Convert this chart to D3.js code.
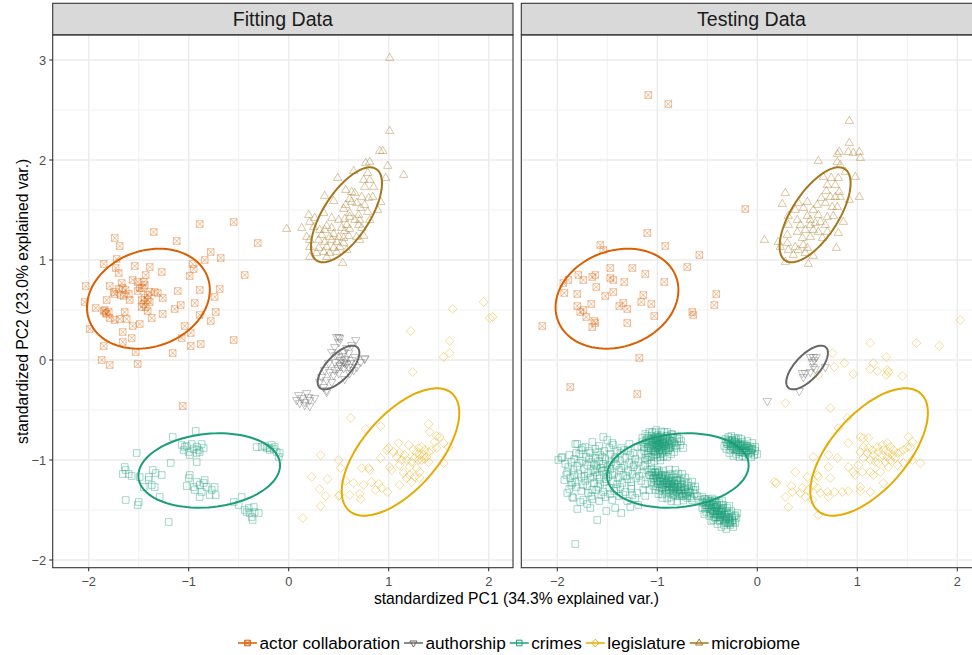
<!DOCTYPE html>
<html>
<head>
<meta charset="utf-8">
<script src="https://cdn.jsdelivr.net/npm/d3@7"></script>
<style>
body { margin: 0; background: #fff; }
text { font-family: "Liberation Sans", Arial, sans-serif; }
</style>
</head>
<body>
<svg id="chart" width="972" height="655"></svg>
<script>
// Categories, colours and shapes (ggplot Dark2 palette)
var categories = ['actor collaboration', 'authorship', 'crimes', 'legislature', 'microbiome']
var colors = ['#D95F02', '#666666', '#1B9E77', '#E6AB02', '#A6761D']
var shapes = ['squareX', 'triDown', 'square', 'diamond', 'triUp']
var facets = ['Fitting Data', 'Testing Data']
var xTicks = [-2, -1, 0, 1, 2]
var yTicks = [-2, -1, 0, 1, 2, 3]

// Ellipses (fitted on the fitting data, drawn in both panels)
var ellCx = [-1.403, 0.498, -0.795, 1.118, 0.578]
var ellCy = [0.613, -0.075, -1.105, -0.92, 1.452]
var ellA = [0.63, 0.276, 0.711, 0.78, 0.546]
var ellB = [0.48, 0.122, 0.367, 0.378, 0.231]
var ellAngle = [20, 47, 5.8, 48.7, 57]

// ---- Fitting data (PC1, PC2) ----
var fitActor = [[-1.74,1.22],[-1.69,1.14],[-1.35,1.28],[-1.12,1.19],[-0.89,1.36],[-0.55,1.38],[-0.31,1.17],[-0.78,1.08],[-0.68,1.02],[-0.84,1.00],[-0.96,0.96],[-0.95,0.91],[-0.99,0.84],[-0.44,0.85],[-1.85,0.96],[-1.72,1.01],[-1.73,0.92],[-1.70,0.87],[-1.54,0.94],[-1.39,0.93],[-1.27,0.88],[-1.43,0.85],[-1.56,0.80],[-1.45,0.78],[-1.44,0.75],[-1.47,0.72],[-1.51,0.78],[-1.67,0.77],[-1.79,0.74],[-2.03,0.74],[-1.75,0.68],[-1.70,0.71],[-1.66,0.72],[-1.63,0.70],[-1.60,0.66],[-1.65,0.64],[-1.68,0.65],[-1.74,0.66],[-1.59,0.60],[-1.82,0.60],[-1.51,0.69],[-1.49,0.72],[-1.39,0.68],[-1.34,0.68],[-1.31,0.67],[-1.41,0.65],[-1.26,0.62],[-1.11,0.69],[-0.89,0.70],[-0.69,0.71],[-0.74,0.63],[-0.94,0.57],[-1.08,0.55],[-1.14,0.51],[-1.47,0.60],[-1.44,0.62],[-1.41,0.60],[-1.39,0.58],[-1.45,0.56],[-1.43,0.53],[-2.04,0.58],[-1.93,0.52],[-1.85,0.49],[-1.83,0.47],[-1.84,0.50],[-1.80,0.48],[-1.82,0.46],[-1.79,0.42],[-1.74,0.40],[-1.69,0.41],[-1.64,0.48],[-1.62,0.41],[-1.47,0.53],[-1.41,0.49],[-1.37,0.42],[-1.26,0.46],[-0.89,0.45],[-0.73,0.48],[-0.78,0.39],[-1.99,0.31],[-1.56,0.34],[-1.49,0.36],[-1.66,0.28],[-1.04,0.34],[-0.98,0.27],[-1.07,0.22],[-0.55,0.20],[-1.57,0.22],[-1.66,0.18],[-1.85,0.14],[-0.98,0.14],[-0.88,0.16],[-1.53,0.08],[-1.16,0.07],[-1.87,0.00],[-1.79,-0.05],[-1.51,-0.04],[-1.06,-0.46]]

var fitAuthor = [[0.48,0.23],[0.51,0.22],[0.50,0.18],[0.46,0.13],[0.43,0.08],[0.67,0.20],[0.63,0.15],[0.58,0.12],[0.55,0.08],[0.60,0.07],[0.76,0.02],[0.72,-0.02],[0.50,0.03],[0.53,0.00],[0.56,-0.03],[0.51,-0.05],[0.46,-0.02],[0.55,-0.08],[0.60,-0.07],[0.63,0.00],[0.66,0.03],[0.40,-0.03],[0.36,-0.10],[0.41,-0.12],[0.46,-0.10],[0.45,-0.15],[0.50,-0.13],[0.61,-0.13],[0.65,-0.10],[0.68,-0.07],[0.33,-0.17],[0.38,-0.20],[0.31,-0.22],[0.43,-0.22],[0.56,-0.19],[0.38,-0.30],[0.35,-0.27],[0.08,-0.40],[0.13,-0.38],[0.11,-0.43],[0.16,-0.42],[0.20,-0.37],[0.18,-0.33],[0.21,-0.40],[0.10,-0.35],[0.21,-0.46],[0.16,-0.45],[0.26,-0.38],[0.76,0.01],[0.50,0.23],[0.38,-0.32],[0.55,-0.02],[0.57,0.01],[0.52,-0.06],[0.58,-0.04],[0.54,0.04],[0.49,-0.08],[0.62,-0.03],[0.47,0.05]]

var fitCrimes = [[-0.93,-0.71],[-1.16,-0.77],[-1.07,-0.85],[-1.02,-0.86],[-0.97,-0.84],[-0.92,-0.87],[-0.87,-0.84],[-0.85,-0.88],[-1.05,-0.90],[-1.00,-0.92],[-0.95,-0.89],[-0.90,-0.90],[-1.04,-0.87],[-0.99,-0.95],[-0.92,-0.93],[-0.89,-0.92],[-1.52,-0.93],[-0.92,-1.02],[-1.18,-1.03],[-0.32,-0.87],[-0.27,-0.87],[-0.22,-0.88],[-0.17,-0.85],[-0.15,-0.89],[-0.12,-0.92],[-0.09,-0.93],[-0.10,-0.97],[-0.19,-0.90],[-0.14,-0.87],[-0.24,-0.86],[-0.19,-0.88],[-1.64,-1.07],[-1.63,-1.10],[-1.66,-1.14],[-1.60,-1.14],[-1.57,-1.16],[-1.63,-1.40],[-1.50,-1.42],[-1.51,-1.45],[-1.49,-1.17],[-1.45,-1.27],[-1.40,-1.17],[-1.36,-1.10],[-1.33,-1.13],[-1.37,-1.25],[-1.34,-1.27],[-1.27,-1.15],[-1.40,-1.20],[-1.29,-1.37],[-1.20,-1.62],[-0.99,-1.15],[-1.00,-1.18],[-1.02,-1.26],[-0.92,-1.22],[-0.89,-1.25],[-0.94,-1.30],[-0.85,-1.23],[-0.82,-1.27],[-0.77,-1.30],[-0.74,-1.27],[-0.73,-1.35],[-0.89,-1.37],[-0.79,-1.35],[-0.87,-1.32],[-0.84,-1.20],[-0.95,-1.27],[-0.55,-1.42],[-0.50,-1.45],[-0.47,-1.37],[-0.44,-1.50],[-0.40,-1.48],[-0.39,-1.53],[-0.35,-1.47],[-0.34,-1.52],[-0.36,-1.60],[-0.30,-1.53],[-0.42,-1.52],[-0.37,-1.57]]

var fitLegis = [[1.64,0.51],[1.95,0.58],[2.01,0.42],[2.04,0.43],[1.22,0.29],[1.61,0.19],[1.61,0.07],[1.55,0.03],[1.24,-0.12],[0.62,-0.58],[0.77,-0.69],[0.92,-0.66],[0.32,-0.95],[0.23,-1.17],[0.39,-1.19],[0.31,-1.29],[0.37,-1.36],[0.32,-1.46],[0.14,-1.58],[0.50,-1.00],[0.52,-1.08],[0.50,-1.36],[1.40,-0.64],[1.41,-0.72],[1.48,-0.76],[1.51,-0.77],[1.46,-0.82],[1.60,-0.87],[1.55,-0.83],[1.10,-0.83],[1.20,-0.85],[1.00,-0.88],[1.05,-0.92],[0.98,-0.90],[1.25,-0.90],[1.30,-0.88],[1.33,-0.87],[1.36,-0.90],[1.40,-0.92],[1.28,-0.93],[1.31,-0.95],[1.35,-0.95],[1.38,-0.97],[1.26,-0.98],[1.30,-1.00],[1.33,-1.00],[1.36,-0.99],[1.40,-1.02],[1.43,-0.90],[1.48,-0.88],[1.23,-1.02],[1.11,-0.93],[1.16,-0.95],[1.13,-1.00],[1.18,-1.00],[1.08,-0.97],[1.11,-1.05],[1.21,-1.07],[1.28,-1.08],[1.31,-1.12],[1.26,-1.17],[1.31,-1.18],[1.55,-1.03],[0.92,-0.98],[1.01,-1.07],[1.03,-1.10],[0.73,-1.08],[0.81,-1.10],[0.80,-1.08],[1.15,-1.13],[1.18,-1.18],[1.11,-1.25],[1.21,-1.15],[1.23,-1.22],[0.57,-1.21],[0.65,-1.23],[0.75,-1.25],[0.83,-1.22],[0.90,-1.24],[0.93,-1.28],[0.99,-1.32],[0.87,-1.30],[0.51,-1.35],[0.61,-1.35],[0.71,-1.34],[0.72,-1.39]]

var fitMicro = [[1.01,3.02],[1.01,2.29],[0.91,2.09],[0.94,2.09],[0.81,1.98],[0.77,1.97],[0.99,1.94],[1.15,1.85],[0.97,1.82],[-0.02,1.31],[0.13,1.32],[0.54,0.97],[0.65,1.89],[0.79,1.87],[0.49,1.82],[0.75,1.80],[0.81,1.80],[0.76,1.73],[0.85,1.73],[0.57,1.70],[0.63,1.68],[0.66,1.67],[0.36,1.64],[0.73,1.63],[0.80,1.62],[0.84,1.63],[0.45,1.59],[0.61,1.61],[0.63,1.58],[0.68,1.57],[0.57,1.55],[0.55,1.51],[0.92,1.58],[0.72,1.52],[0.76,1.55],[0.79,1.48],[0.89,1.50],[0.61,1.47],[0.70,1.45],[0.66,1.40],[0.20,1.45],[0.26,1.42],[0.35,1.47],[0.43,1.42],[0.50,1.40],[0.56,1.41],[0.61,1.43],[0.71,1.40],[0.81,1.40],[0.21,1.38],[0.25,1.33],[0.31,1.30],[0.38,1.34],[0.43,1.32],[0.36,1.30],[0.53,1.32],[0.56,1.29],[0.61,1.31],[0.58,1.35],[0.70,1.35],[0.73,1.32],[0.18,1.23],[0.21,1.20],[0.33,1.25],[0.41,1.23],[0.45,1.26],[0.50,1.23],[0.55,1.22],[0.60,1.24],[0.68,1.23],[0.75,1.24],[0.30,1.20],[0.36,1.18],[0.43,1.20],[0.48,1.18],[0.55,1.17],[0.71,1.20],[0.21,1.13],[0.30,1.12],[0.38,1.13],[0.45,1.12],[0.51,1.13],[0.58,1.10],[0.41,1.07],[0.35,1.08],[0.48,1.08],[0.21,1.03],[0.28,1.07],[0.38,1.03]]

// ---- Testing data (PC1, PC2) ----
var testActor = [[-1.09,2.65],[-0.89,2.56],[-0.12,1.51],[-1.10,1.27],[-1.57,1.15],[-1.54,1.10],[-0.92,1.14],[-0.58,1.05],[-0.70,0.93],[-1.47,0.92],[-1.25,0.92],[-1.79,0.85],[-1.74,0.80],[-1.65,0.83],[-1.62,0.85],[-1.47,0.82],[-1.44,0.80],[-1.33,0.78],[-1.12,0.86],[-0.93,0.78],[-1.94,0.77],[-1.89,0.80],[-1.61,0.73],[-1.93,0.67],[-1.80,0.66],[-1.44,0.68],[-1.52,0.64],[-1.14,0.65],[-1.16,0.58],[-0.41,0.66],[-0.43,0.55],[-1.80,0.54],[-1.77,0.48],[-1.74,0.50],[-1.66,0.56],[-1.38,0.54],[-1.34,0.57],[-1.30,0.51],[-1.06,0.56],[-1.03,0.44],[-0.65,0.48],[-0.64,0.45],[-1.71,0.43],[-1.63,0.39],[-1.62,0.37],[-1.65,0.33],[-1.30,0.37],[-2.15,0.34],[-1.18,0.02],[-1.87,-0.27],[-1.20,-0.34]]

var testAuthor = [[0.56,0.03],[0.59,0.03],[0.53,0.03],[0.55,-0.02],[0.57,0.00],[0.56,-0.07],[0.53,-0.12],[0.48,-0.13],[0.45,-0.13],[0.46,-0.17],[0.58,-0.09],[0.68,-0.07],[0.42,-0.31],[0.10,-0.41]]

var testCrimes = [
  // outer, scattered points
  [-1.99,-1.00],[-1.95,-0.97],[-1.82,-0.84],[-1.81,-0.93],[-1.75,-0.88],[-1.54,-0.77],[-1.45,-0.83],[-1.90,-1.33],[-1.84,-1.38],[-1.80,-1.49],[-1.70,-1.44],[-1.67,-1.48],[-1.60,-1.60],[-1.51,-1.51],[-1.42,-1.48],[-1.36,-1.53],[-1.77,-1.42],[-1.85,-1.23],[-1.82,-1.84],[-1.27,-1.47],[-1.19,-1.45],
  // broad cloud on the left
  [-1.80,-0.84],[-1.72,-0.87],[-1.65,-0.82],[-1.58,-0.86],[-1.50,-0.80],[-1.44,-0.85],[-1.36,-0.88],[-1.28,-0.84],[-1.20,-0.87],[-1.76,-0.90],[-1.62,-0.89],[-1.53,-0.91],
  [-1.96,-0.98],[-1.88,-0.95],[-1.83,-0.99],[-1.78,-0.94],[-1.71,-0.97],[-1.67,-0.93],[-1.62,-0.98],[-1.57,-0.95],[-1.52,-0.99],[-1.47,-0.94],[-1.42,-0.97],[-1.37,-0.93],[-1.32,-0.98],[-1.27,-0.95],[-1.22,-0.99],[-1.16,-0.94],[-1.12,-0.98],
  [-1.92,-1.04],[-1.86,-1.02],[-1.80,-1.06],[-1.75,-1.01],[-1.70,-1.05],[-1.66,-1.02],[-1.61,-1.06],[-1.58,-1.01],[-1.54,-1.04],[-1.50,-1.07],[-1.46,-1.02],[-1.41,-1.05],[-1.37,-1.01],[-1.33,-1.06],[-1.28,-1.03],[-1.24,-1.07],[-1.19,-1.02],[-1.14,-1.06],[-1.63,-1.04],[-1.56,-1.08],
  [-1.90,-1.12],[-1.84,-1.10],[-1.79,-1.14],[-1.73,-1.09],[-1.69,-1.13],[-1.64,-1.10],[-1.60,-1.15],[-1.55,-1.11],[-1.51,-1.14],[-1.47,-1.09],[-1.43,-1.13],[-1.38,-1.10],[-1.34,-1.15],[-1.29,-1.11],[-1.25,-1.14],[-1.20,-1.10],[-1.15,-1.13],[-1.62,-1.12],[-1.52,-1.10],
  [-1.93,-1.20],[-1.87,-1.18],[-1.82,-1.22],[-1.76,-1.17],[-1.72,-1.21],[-1.67,-1.18],[-1.63,-1.23],[-1.58,-1.19],[-1.53,-1.22],[-1.49,-1.17],[-1.44,-1.21],[-1.39,-1.18],[-1.35,-1.23],[-1.30,-1.19],[-1.26,-1.22],[-1.21,-1.18],[-1.16,-1.21],
  [-1.88,-1.29],[-1.81,-1.27],[-1.76,-1.31],[-1.70,-1.26],[-1.65,-1.30],[-1.59,-1.27],[-1.54,-1.32],[-1.48,-1.28],[-1.43,-1.31],[-1.37,-1.27],[-1.32,-1.32],[-1.26,-1.29],[-1.20,-1.33],[-1.14,-1.30],
  [-1.85,-1.37],[-1.74,-1.40],[-1.66,-1.36],[-1.58,-1.41],[-1.52,-1.37],[-1.45,-1.40],[-1.38,-1.36],[-1.30,-1.41],[-1.22,-1.38],
  [-1.89,-1.07],[-1.83,-1.15],[-1.78,-1.03],[-1.73,-1.16],[-1.68,-0.99],[-1.64,-1.17],[-1.60,-1.09],[-1.57,-1.24],[-1.55,-0.97],[-1.51,-1.19],[-1.48,-1.05],[-1.45,-1.15],[-1.42,-0.99],[-1.40,-1.24],[-1.36,-1.08],[-1.31,-1.16],[-1.29,-0.91],[-1.26,-1.26],[-1.23,-1.05],[-1.18,-1.16],[-1.74,-1.25],[-1.69,-1.33],[-1.61,-1.30],[-1.56,-1.35],[-1.47,-1.34],[-1.41,-1.29],[-1.34,-1.35],[-1.86,-1.25],[-1.91,-1.15],[-1.68,-0.91],[-1.59,-0.92],[-1.48,-0.88],[-1.40,-0.91],[-1.33,-0.90],[-1.24,-0.93],[-1.12,-1.24],[-1.08,-1.30],[-1.12,-1.36],[-1.25,-1.35],[-1.65,-1.39],[-1.10,-1.00],[-1.06,-1.03],[-1.12,-1.05],[-1.08,-0.97],
  // dense group near (-1.0, -0.85)
  [-1.15,-0.78],[-1.12,-0.83],[-1.10,-0.76],[-1.08,-0.88],[-1.07,-0.80],[-1.05,-0.72],[-1.05,-0.85],[-1.04,-0.91],[-1.03,-0.78],[-1.02,-0.83],[-1.01,-0.88],[-1.00,-0.75],[-1.00,-0.80],[-0.99,-0.85],[-0.98,-0.90],[-0.98,-0.82],[-0.97,-0.77],[-0.96,-0.87],[-0.95,-0.84],[-0.95,-0.93],[-0.94,-0.79],[-0.93,-0.86],[-0.92,-0.82],[-0.91,-0.89],[-0.90,-0.76],[-0.89,-0.84],[-0.88,-0.80],[-0.87,-0.88],[-0.85,-0.83],[-0.84,-0.78],[-0.82,-0.86],[-0.80,-0.82],[-0.78,-0.79],[-0.77,-0.85],[-1.03,-0.95],[-0.97,-0.97],[-1.09,-0.93],[-0.93,-0.72],[-1.01,-0.70],[-0.86,-0.74],[-1.13,-0.87],[-0.97,-0.83],[-1.00,-0.86],[-0.94,-0.81],[-1.02,-0.80],[-0.99,-0.78],[-0.74,-0.88],[-0.76,-0.81],
  [-1.06,-0.76],[-1.01,-0.765],[-0.96,-0.755],[-0.91,-0.765],[-1.09,-0.78],[-1.04,-0.785],[-0.99,-0.775],[-0.94,-0.785],[-0.89,-0.78],[-1.11,-0.80],[-1.06,-0.805],[-1.02,-0.795],[-0.97,-0.805],[-0.92,-0.80],[-0.87,-0.805],[-1.08,-0.82],[-1.04,-0.825],[-1.00,-0.815],[-0.95,-0.825],[-0.90,-0.82],[-0.85,-0.815],[-1.10,-0.84],[-1.05,-0.845],[-1.01,-0.835],[-0.97,-0.845],[-0.93,-0.84],[-0.88,-0.845],[-0.83,-0.835],[-1.07,-0.86],[-1.03,-0.865],[-0.99,-0.855],[-0.95,-0.865],[-0.91,-0.86],[-0.86,-0.855],[-1.09,-0.88],[-1.04,-0.885],[-1.00,-0.875],[-0.96,-0.885],[-0.92,-0.88],[-0.88,-0.875],[-1.06,-0.90],[-1.02,-0.905],[-0.98,-0.895],[-0.94,-0.905],[-0.89,-0.90],[-1.03,-0.92],[-0.99,-0.925],[-0.95,-0.915],[-0.91,-0.92],[-1.01,-0.94],[-0.97,-0.945],
  [-1.08,-0.72],[-1.02,-0.725],[-0.96,-0.715],[-0.90,-0.72],[-1.12,-0.74],[-0.85,-0.745],[-1.06,-0.97],[-1.00,-0.975],[-0.94,-0.965],[-0.90,-0.97],[-1.03,-1.01],[-0.97,-1.005],[-1.15,-0.82],[-1.16,-0.86],[-1.13,-0.91],[-0.81,-0.88],[-0.83,-0.92],[-0.80,-0.78],[-0.86,-0.94],[-1.11,-0.95],
  // dense group near (-0.87, -1.24)
  [-1.10,-1.10],[-1.08,-1.15],[-1.06,-1.09],[-1.05,-1.13],[-1.04,-1.18],[-1.02,-1.12],[-1.01,-1.16],[-1.00,-1.21],[-0.99,-1.13],[-0.98,-1.18],[-0.97,-1.22],[-0.96,-1.15],[-0.95,-1.19],[-0.94,-1.25],[-0.93,-1.20],[-0.92,-1.16],[-0.91,-1.23],[-0.90,-1.27],[-0.89,-1.20],[-0.88,-1.24],[-0.87,-1.29],[-0.86,-1.22],[-0.85,-1.26],[-0.84,-1.31],[-0.83,-1.23],[-0.82,-1.27],[-0.81,-1.32],[-0.80,-1.25],[-0.79,-1.29],[-0.78,-1.34],[-0.77,-1.27],[-0.76,-1.31],[-0.75,-1.36],[-0.73,-1.30],[-0.72,-1.34],[-0.70,-1.38],[-0.69,-1.32],[-0.67,-1.36],[-0.65,-1.40],[-0.88,-1.18],[-0.91,-1.30],[-0.84,-1.35],[-0.95,-1.28],[-0.80,-1.20],[-0.86,-1.26],[-0.90,-1.23],[-0.83,-1.28],[-0.62,-1.30],[-0.60,-1.36],
  [-1.06,-1.12],[-1.02,-1.125],[-0.98,-1.115],[-1.07,-1.15],[-1.03,-1.155],[-0.99,-1.145],[-0.95,-1.155],[-0.91,-1.15],[-1.04,-1.18],[-1.00,-1.185],[-0.96,-1.175],[-0.92,-1.185],[-0.88,-1.18],[-0.84,-1.175],[-1.01,-1.21],[-0.97,-1.215],[-0.93,-1.205],[-0.89,-1.215],[-0.85,-1.21],[-0.81,-1.205],[-0.99,-1.24],[-0.95,-1.245],[-0.91,-1.235],[-0.87,-1.245],[-0.83,-1.24],[-0.79,-1.235],[-0.75,-1.245],[-0.96,-1.27],[-0.92,-1.275],[-0.88,-1.265],[-0.84,-1.275],[-0.80,-1.27],[-0.76,-1.265],[-0.72,-1.275],[-0.92,-1.30],[-0.88,-1.305],[-0.84,-1.295],[-0.80,-1.305],[-0.76,-1.30],[-0.72,-1.295],[-0.68,-1.305],[-0.87,-1.33],[-0.83,-1.335],[-0.79,-1.325],[-0.75,-1.335],[-0.71,-1.33],[-0.67,-1.325],[-0.82,-1.36],[-0.78,-1.365],[-0.74,-1.355],[-0.70,-1.36],
  [-1.00,-1.10],[-0.94,-1.105],[-0.88,-1.095],[-0.82,-1.10],[-0.87,-1.14],[-0.83,-1.145],[-0.79,-1.135],[-0.75,-1.14],[-0.80,-1.18],[-0.76,-1.185],[-0.72,-1.175],[-1.06,-1.22],[-1.03,-1.225],[-0.77,-1.215],[-0.73,-1.22],[-0.69,-1.225],[-0.65,-1.215],[-1.04,-1.26],[-1.00,-1.265],[-0.70,-1.255],[-0.66,-1.26],[-0.62,-1.265],[-1.02,-1.30],[-0.98,-1.305],[-0.95,-1.295],[-0.64,-1.30],[-0.99,-1.34],[-0.95,-1.345],[-0.91,-1.335],[-0.63,-1.34],[-0.95,-1.38],[-0.90,-1.385],[-0.86,-1.375],[-0.66,-1.38],[-0.86,-1.41],[-0.80,-1.415],[-0.74,-1.405],
  // dense group near (-0.38, -1.52)
  [-0.57,-1.40],[-0.55,-1.37],[-0.54,-1.43],[-0.52,-1.39],[-0.51,-1.45],[-0.50,-1.41],[-0.49,-1.47],[-0.48,-1.43],[-0.47,-1.49],[-0.46,-1.45],[-0.45,-1.41],[-0.44,-1.51],[-0.43,-1.47],[-0.42,-1.53],[-0.41,-1.49],[-0.40,-1.45],[-0.39,-1.55],[-0.38,-1.51],[-0.37,-1.57],[-0.36,-1.53],[-0.35,-1.49],[-0.34,-1.59],[-0.33,-1.55],[-0.32,-1.61],[-0.31,-1.57],[-0.30,-1.53],[-0.29,-1.63],[-0.28,-1.59],[-0.27,-1.65],[-0.25,-1.61],[-0.24,-1.67],[-0.22,-1.63],[-0.21,-1.58],[-0.43,-1.57],[-0.47,-1.53],[-0.38,-1.61],[-0.33,-1.65],[-0.52,-1.49],[-0.40,-1.52],[-0.36,-1.50],[-0.20,-1.53],[-0.23,-1.56],
  [-0.53,-1.39],[-0.49,-1.395],[-0.45,-1.385],[-0.55,-1.42],[-0.51,-1.425],[-0.47,-1.415],[-0.43,-1.42],[-0.52,-1.45],[-0.48,-1.455],[-0.44,-1.445],[-0.40,-1.455],[-0.36,-1.45],[-0.50,-1.48],[-0.46,-1.485],[-0.42,-1.475],[-0.38,-1.485],[-0.34,-1.48],[-0.47,-1.51],[-0.43,-1.515],[-0.39,-1.505],[-0.35,-1.515],[-0.31,-1.51],[-0.44,-1.54],[-0.40,-1.545],[-0.36,-1.535],[-0.32,-1.545],[-0.28,-1.54],[-0.41,-1.57],[-0.37,-1.575],[-0.33,-1.565],[-0.29,-1.575],[-0.25,-1.57],[-0.37,-1.60],[-0.33,-1.605],[-0.29,-1.595],[-0.25,-1.60],[-0.32,-1.63],[-0.28,-1.635],[-0.24,-1.625],
  [-0.42,-1.40],[-0.38,-1.43],[-0.34,-1.45],[-0.30,-1.48],[-0.26,-1.51],[-0.22,-1.55],[-0.35,-1.41],[-0.28,-1.46],[-0.55,-1.48],[-0.51,-1.52],[-0.48,-1.56],[-0.44,-1.60],[-0.40,-1.64],[-0.36,-1.67],[-0.31,-1.69],[-0.53,-1.54],[-0.46,-1.61],[-0.42,-1.58],[-0.38,-1.55],[-0.45,-1.50],[-0.41,-1.47],[-0.35,-1.56],[-0.31,-1.59],[-0.27,-1.62],
  // dense group near (-0.18, -0.88)
  [-0.32,-0.79],[-0.30,-0.84],[-0.29,-0.77],[-0.28,-0.81],[-0.26,-0.86],[-0.25,-0.80],[-0.24,-0.84],[-0.23,-0.89],[-0.22,-0.82],[-0.21,-0.86],[-0.20,-0.90],[-0.19,-0.84],[-0.18,-0.88],[-0.17,-0.92],[-0.16,-0.86],[-0.15,-0.90],[-0.14,-0.85],[-0.13,-0.93],[-0.12,-0.88],[-0.11,-0.91],[-0.10,-0.86],[-0.09,-0.94],[-0.08,-0.90],[-0.06,-0.93],[-0.05,-0.89],[-0.03,-0.95],[-0.02,-0.91],[0.00,-0.94],[-0.27,-0.90],[-0.21,-0.94],[-0.15,-0.96],[-0.23,-0.78],
  [-0.29,-0.80],[-0.25,-0.805],[-0.21,-0.795],[-0.31,-0.82],[-0.27,-0.825],[-0.23,-0.815],[-0.19,-0.825],[-0.15,-0.82],[-0.29,-0.84],[-0.25,-0.845],[-0.21,-0.835],[-0.17,-0.845],[-0.13,-0.84],[-0.27,-0.86],[-0.23,-0.865],[-0.19,-0.855],[-0.15,-0.865],[-0.11,-0.86],[-0.07,-0.865],[-0.25,-0.88],[-0.21,-0.885],[-0.17,-0.875],[-0.13,-0.885],[-0.09,-0.88],[-0.05,-0.885],[-0.22,-0.90],[-0.18,-0.905],[-0.14,-0.895],[-0.10,-0.905],[-0.06,-0.90],[-0.19,-0.92],[-0.15,-0.925],[-0.11,-0.915],[-0.07,-0.92],
  [-0.33,-0.86],[-0.31,-0.89],[-0.28,-0.93],[-0.24,-0.96],[-0.18,-0.97],[-0.12,-0.97],[-0.06,-0.97],[-0.02,-0.87],[-0.05,-0.83],[-0.10,-0.81],[-0.16,-0.79],[-0.19,-0.78],[-0.26,-0.76]
]

var testLegis = [[2.03,0.40],[1.13,0.17],[1.59,0.17],[1.82,0.14],[0.75,0.07],[0.87,-0.03],[0.77,-0.07],[1.29,0.03],[1.16,-0.03],[1.13,-0.09],[1.20,-0.11],[1.30,-0.10],[1.31,-0.12],[1.29,-0.15],[0.96,-0.14],[1.45,-0.16],[0.61,-0.15],[0.28,-0.43],[0.73,-0.48],[0.90,-0.58],[0.81,-0.68],[1.03,-0.77],[1.06,-0.78],[1.11,-0.78],[0.91,-0.83],[1.51,-0.77],[1.55,-0.82],[1.53,-0.87],[1.20,-0.87],[1.25,-0.85],[1.30,-0.83],[1.33,-0.87],[1.36,-0.90],[1.26,-0.90],[1.31,-0.92],[1.35,-0.95],[1.30,-0.97],[1.25,-0.95],[1.21,-0.92],[1.38,-0.98],[1.33,-1.00],[1.28,-1.02],[1.40,-0.93],[1.43,-0.92],[1.46,-0.90],[1.50,-0.87],[1.06,-0.87],[1.11,-0.88],[1.15,-0.90],[1.03,-0.92],[1.10,-0.93],[1.16,-0.95],[1.06,-0.98],[1.13,-1.00],[1.18,-1.02],[1.21,-1.03],[0.80,-0.98],[0.71,-0.95],[0.56,-0.97],[0.91,-1.07],[0.96,-1.12],[1.01,-1.05],[0.98,-1.15],[1.05,-1.12],[1.13,-1.12],[1.16,-1.15],[1.23,-1.12],[1.31,-1.07],[1.40,-1.05],[1.46,-1.03],[1.55,-1.00],[1.63,-1.03],[0.71,-1.07],[0.73,-1.18],[0.60,-1.15],[0.38,-1.12],[0.50,-1.17],[0.61,-1.17],[0.56,-1.25],[0.17,-1.22],[0.19,-1.23],[0.34,-1.26],[0.35,-1.32],[0.45,-1.28],[0.43,-1.33],[0.51,-1.30],[0.48,-1.37],[0.60,-1.28],[0.63,-1.33],[0.70,-1.32],[0.77,-1.32],[0.71,-1.37],[0.85,-1.32],[0.91,-1.31],[1.03,-1.27],[1.03,-1.31],[1.13,-1.32],[1.26,-1.23],[0.28,-1.37],[0.31,-1.47],[0.55,-1.40],[0.61,-1.55]]

var testMicro = [[0.92,2.39],[0.92,2.17],[0.82,2.08],[0.80,2.06],[0.91,2.08],[0.96,2.07],[1.02,2.08],[1.03,2.02],[0.61,1.99],[0.80,1.98],[0.83,1.95],[0.88,1.88],[0.98,1.83],[0.66,1.83],[0.74,1.82],[0.81,1.82],[0.70,1.75],[0.78,1.75],[0.69,1.69],[0.82,1.68],[0.64,1.62],[0.73,1.63],[0.78,1.63],[0.83,1.63],[0.92,1.60],[1.02,1.63],[0.28,1.67],[0.25,1.56],[0.50,1.58],[0.41,1.57],[0.60,1.55],[0.68,1.57],[0.75,1.53],[0.80,1.53],[0.38,1.50],[0.46,1.52],[0.56,1.50],[0.31,1.44],[0.40,1.40],[0.50,1.44],[0.61,1.45],[0.70,1.43],[0.76,1.44],[0.86,1.38],[0.53,1.40],[0.58,1.37],[0.63,1.38],[0.31,1.35],[0.43,1.35],[0.53,1.35],[0.68,1.35],[0.40,1.28],[0.48,1.30],[0.56,1.30],[0.61,1.28],[0.70,1.28],[0.81,1.27],[0.30,1.25],[0.45,1.22],[0.53,1.23],[0.65,1.22],[0.07,1.20],[0.21,1.18],[0.30,1.17],[0.23,1.13],[0.38,1.13],[0.46,1.15],[0.50,1.12],[0.79,1.12],[0.31,1.10],[0.36,1.05],[0.41,1.10],[0.48,1.07],[0.56,1.04],[0.28,0.98],[0.51,0.96]]

var panelData = [
    [fitActor, fitAuthor, fitCrimes, fitLegis, fitMicro],
    [testActor, testAuthor, testCrimes, testLegis, testMicro]
]

// Layout
var width = 972, height = 655
var panelLeft = [52.7, 521.3], panelW = 460.3
var panelTop = 35, panelBottom = 567.7
var stripTop = 3.3, stripH = 31.4
var pointAlpha = 0.4

var svg = d3.select('#chart')

var y = d3.scaleLinear().domain([-2.077, 3.25]).range([panelBottom, panelTop])
var xMinor = xTicks.slice(1).map(function(t, i) { return (t + xTicks[i]) / 2 })
var yMinor = yTicks.slice(1).map(function(t, i) { return (t + yTicks[i]) / 2 })
var fmt = function(t) { return t < 0 ? '\u2212' + Math.abs(t) : String(t) }

// Marker shapes, centred on 0,0
var shapePath = function(shape, s) {
    var sq = 'M' + (-s) + ',' + (-s) + 'h' + 2 * s + 'v' + 2 * s + 'h' + (-2 * s) + 'Z'
    var r = s * 1.45
    var h = r * 0.866
    if (shape === 'square') return sq
    if (shape === 'squareX') return sq + 'M' + (-s) + ',' + (-s) + 'L' + s + ',' + s + 'M' + s + ',' + (-s) + 'L' + (-s) + ',' + s
    if (shape === 'triUp') return 'M0,' + (-r) + 'L' + h + ',' + (r / 2) + 'L' + (-h) + ',' + (r / 2) + 'Z'
    if (shape === 'triDown') return 'M0,' + r + 'L' + h + ',' + (-r / 2) + 'L' + (-h) + ',' + (-r / 2) + 'Z'
    if (shape === 'diamond') { var d = s * 1.35; return 'M0,' + (-d) + 'L' + d + ',0L0,' + d + 'L' + (-d) + ',0Z' }
}

var ellipsePoints = function(i) {
    var th = ellAngle[i] * Math.PI / 180
    return d3.range(0, 101).map(function(k) {
        var t = k / 100 * 2 * Math.PI
        return [ellCx[i] + ellA[i] * Math.cos(t) * Math.cos(th) - ellB[i] * Math.sin(t) * Math.sin(th),
                ellCy[i] + ellA[i] * Math.cos(t) * Math.sin(th) + ellB[i] * Math.sin(t) * Math.cos(th)]
    })
}

facets.forEach(function(name, fi) {
    var x0 = panelLeft[fi]
    var x = d3.scaleLinear().domain([-2.36, 2.243]).range([x0, x0 + panelW])
    var g = svg.append('g')

    g.append('clipPath').attr('id', 'clip' + fi)
        .append('rect').attr('x', x0).attr('y', panelTop)
        .attr('width', panelW).attr('height', panelBottom - panelTop)

    // grid
    var grid = g.append('g')
    grid.selectAll('.xminor').data(xMinor).enter().append('line')
        .attr('x1', function(d) { return x(d) }).attr('x2', function(d) { return x(d) })
        .attr('y1', panelTop).attr('y2', panelBottom)
        .attr('stroke', '#ebebeb').attr('stroke-width', 0.7)
    grid.selectAll('.yminor').data(yMinor).enter().append('line')
        .attr('y1', function(d) { return y(d) }).attr('y2', function(d) { return y(d) })
        .attr('x1', x0).attr('x2', x0 + panelW)
        .attr('stroke', '#ebebeb').attr('stroke-width', 0.7)
    grid.selectAll('.xmajor').data(xTicks).enter().append('line')
        .attr('x1', function(d) { return x(d) }).attr('x2', function(d) { return x(d) })
        .attr('y1', panelTop).attr('y2', panelBottom)
        .attr('stroke', '#ebebeb').attr('stroke-width', 1.4)
    grid.selectAll('.ymajor').data(yTicks).enter().append('line')
        .attr('y1', function(d) { return y(d) }).attr('y2', function(d) { return y(d) })
        .attr('x1', x0).attr('x2', x0 + panelW)
        .attr('stroke', '#ebebeb').attr('stroke-width', 1.4)

    // points
    var plot = g.append('g').attr('clip-path', 'url(#clip' + fi + ')')
    categories.forEach(function(cat, ci) {
        plot.append('g').selectAll('path')
            .data(panelData[fi][ci])
            .enter().append('path')
            .attr('d', shapePath(shapes[ci], 3.3))
            .attr('transform', function(d) { return 'translate(' + x(d[0]) + ',' + y(d[1]) + ')' })
            .attr('fill', 'none')
            .attr('stroke', colors[ci])
            .attr('stroke-opacity', pointAlpha)
            .attr('stroke-width', 1)
    })

    // ellipses
    var line = d3.line().x(function(d) { return x(d[0]) }).y(function(d) { return y(d[1]) })
    categories.forEach(function(cat, ci) {
        plot.append('path')
            .attr('d', line(ellipsePoints(ci)))
            .attr('fill', 'none')
            .attr('stroke', colors[ci])
            .attr('stroke-width', 2)
    })

    // panel border
    g.append('rect').attr('x', x0).attr('y', panelTop)
        .attr('width', panelW).attr('height', panelBottom - panelTop)
        .attr('fill', 'none').attr('stroke', '#333333').attr('stroke-width', 1.1)

    // strip
    g.append('rect').attr('x', x0).attr('y', stripTop)
        .attr('width', panelW).attr('height', stripH)
        .attr('fill', '#d9d9d9').attr('stroke', '#333333').attr('stroke-width', 1.1)
    g.append('text').attr('x', x0 + panelW / 2).attr('y', stripTop + stripH / 2 + 7)
        .attr('text-anchor', 'middle').attr('font-size', 19.6).attr('fill', '#1a1a1a')
        .text(name)

    // x axis
    var xa = g.append('g')
    xa.selectAll('line').data(xTicks).enter().append('line')
        .attr('x1', function(d) { return x(d) }).attr('x2', function(d) { return x(d) })
        .attr('y1', panelBottom).attr('y2', panelBottom + 3.5)
        .attr('stroke', '#333333').attr('stroke-width', 1.1)
    xa.selectAll('text').data(xTicks).enter().append('text')
        .attr('x', function(d) { return x(d) }).attr('y', panelBottom + 18)
        .attr('text-anchor', 'middle').attr('font-size', 12.8).attr('fill', '#4d4d4d')
        .text(fmt)

    // y axis (left panel only)
    if (fi === 0) {
        var ya = g.append('g')
        ya.selectAll('line').data(yTicks).enter().append('line')
            .attr('y1', function(d) { return y(d) }).attr('y2', function(d) { return y(d) })
            .attr('x1', x0 - 3.5).attr('x2', x0)
            .attr('stroke', '#333333').attr('stroke-width', 1.1)
        ya.selectAll('text').data(yTicks).enter().append('text')
            .attr('x', x0 - 6.5).attr('y', function(d) { return y(d) + 4.5 })
            .attr('text-anchor', 'end').attr('font-size', 12.8).attr('fill', '#4d4d4d')
            .text(fmt)
    }
})

// axis titles
svg.append('text').attr('x', 516.5).attr('y', 603.5)
    .attr('text-anchor', 'middle').attr('font-size', 15.7).attr('fill', '#000')
    .text('standardized PC1 (34.3% explained var.)')
svg.append('text').attr('transform', 'translate(27.5,301.3) rotate(-90)')
    .attr('text-anchor', 'middle').attr('font-size', 15.7).attr('fill', '#000')
    .text('standardized PC2 (23.0% explained var.)')

// legend
var legendY = 643, keyW = 19, keyGap = 2.5, itemGap = 4
var legend = svg.append('g')
var items = categories.map(function(cat, ci) {
    var it = legend.append('g')
    it.append('line').attr('x1', 0).attr('x2', keyW).attr('y1', legendY).attr('y2', legendY)
        .attr('stroke', colors[ci]).attr('stroke-width', 1.5)
    it.append('path').attr('d', shapePath(shapes[ci], 2.8))
        .attr('transform', 'translate(' + keyW / 2 + ',' + legendY + ')')
        .attr('fill', 'none').attr('stroke', colors[ci]).attr('stroke-width', 1)
    var t = it.append('text').attr('x', keyW + keyGap).attr('y', legendY + 6)
        .attr('font-size', 17.2).attr('fill', '#000').text(cat)
    return { g: it, w: keyW + keyGap + t.node().getComputedTextLength() }
})
var total = d3.sum(items, function(d) { return d.w }) + itemGap * (items.length - 1)
var cx = 519 - total / 2
items.forEach(function(d) {
    d.g.attr('transform', 'translate(' + cx + ',0)')
    cx += d.w + itemGap
})
</script>
</body>
</html>
